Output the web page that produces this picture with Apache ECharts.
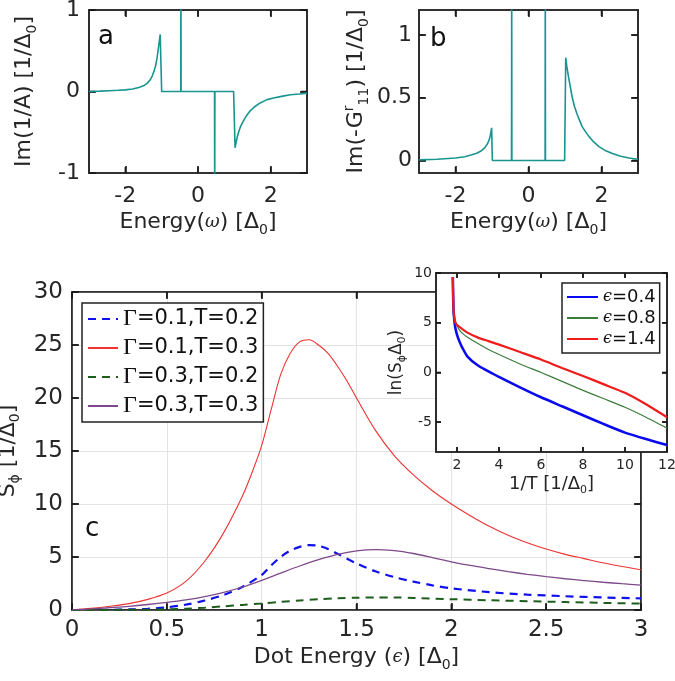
<!DOCTYPE html>
<html><head><meta charset="utf-8">
<script src="https://cdn.jsdelivr.net/npm/echarts@6/dist/echarts.min.js"></script>
<style>html,body{margin:0;padding:0;background:#fff}#c{width:675px;height:681px}</style>
</head><body><div id="c"></div>
<script>
// ---------- Panel a : Im(1/A) ----------
const aOmega = [-3, -2.7, -2.45, -2.2, -2, -1.8, -1.63, -1.5, -1.4, -1.32, -1.26, -1.21, -1.17, -1.13, -1.1, -1.07, -1.04, -1.0,
  -0.475, -0.47, -0.465, 0.455, 0.46, 0.465, 0.98, 1.02, 1.05, 1.08, 1.11, 1.17, 1.25, 1.33, 1.43, 1.55, 1.71, 1.9, 2.08, 2.3, 2.54, 2.8, 3];
const aValue = [0, 0.005, 0.01, 0.015, 0.02, 0.03, 0.05, 0.07, 0.1, 0.14, 0.19, 0.25, 0.31, 0.4, 0.5, 0.6, 0.7, 0,
  0, 1.5, 0, 0, -1.5, 0, 0, -0.69, -0.62, -0.56, -0.51, -0.43, -0.36, -0.3, -0.24, -0.19, -0.14, -0.1, -0.08, -0.06, -0.04, -0.03, -0.02];

// ---------- Panel b : Im(-G^r_11) ----------
const bOmega = [-3, -2.5, -2, -1.75, -1.55, -1.4, -1.28, -1.2, -1.12, -1.07, -1.04, -1.01, -0.99,
  -0.465, -0.46, -0.455, 0.455, 0.46, 0.465, 0.99, 1.02, 1.05, 1.1, 1.15, 1.2, 1.26, 1.33, 1.4, 1.47, 1.56, 1.66, 1.78, 1.93, 2.1, 2.3, 2.5, 2.75, 3];
const bValue = [0.005, 0.01, 0.02, 0.03, 0.045, 0.06, 0.08, 0.1, 0.135, 0.17, 0.21, 0.26, 0,
  0, 1.5, 0, 0, 1.5, 0, 0, 0.82, 0.75, 0.66, 0.58, 0.5, 0.43, 0.37, 0.32, 0.27, 0.23, 0.19, 0.15, 0.11, 0.08, 0.055, 0.035, 0.02, 0.01];

// ---------- Panel c : S_phi vs dot energy ----------
const cNames = ['Γ=0.1,T=0.2', 'Γ=0.1,T=0.3', 'Γ=0.3,T=0.2', 'Γ=0.3,T=0.3'];
const blueEps = [0, 0.1, 0.2, 0.3, 0.4, 0.5, 0.6, 0.7, 0.8, 0.9, 1.0, 1.05, 1.1, 1.15, 1.2, 1.25, 1.3, 1.35, 1.4, 1.5, 1.6, 1.7, 1.8, 1.9, 2.0, 2.2, 2.4, 2.6, 2.8, 3.0];
const blueS   = [0, 0, 0.02, 0.05, 0.12, 0.25, 0.5, 0.9, 1.42, 2.2, 3.3, 4.2, 5.0, 5.6, 5.95, 6.12, 6.05, 5.75, 5.3, 4.4, 3.65, 3.1, 2.68, 2.33, 2.05, 1.68, 1.45, 1.3, 1.18, 1.1];
const redEps  = [0, 0.1, 0.2, 0.3, 0.4, 0.5, 0.6, 0.7, 0.8, 0.9, 0.95, 1.0, 1.05, 1.1, 1.15, 1.2, 1.25, 1.3, 1.35, 1.4, 1.45, 1.5, 1.6, 1.7, 1.8, 1.9, 2.0, 2.1, 2.2, 2.3, 2.4, 2.5, 2.6, 2.7, 2.8, 2.9, 3.0];
const redS    = [0, 0.15, 0.35, 0.6, 1.0, 1.6, 2.7, 4.6, 7.3, 10.8, 13.0, 15.5, 18.9, 22.2, 24.2, 25.3, 25.5, 25.0, 24.2, 23.0, 21.6, 20.0, 16.95, 14.55, 12.75, 11.25, 10.0, 8.9, 7.9, 7.05, 6.35, 5.75, 5.25, 4.85, 4.45, 4.1, 3.8];
const greenEps = [0, 0.2, 0.4, 0.5, 0.6, 0.7, 0.8, 0.9, 1.0, 1.1, 1.2, 1.3, 1.4, 1.5, 1.6, 1.7, 1.8, 2.0, 2.2, 2.4, 2.6, 2.8, 3.0];
const greenS   = [0, 0.01, 0.03, 0.06, 0.12, 0.22, 0.35, 0.48, 0.61, 0.76, 0.9, 1.02, 1.1, 1.16, 1.19, 1.18, 1.14, 1.02, 0.92, 0.83, 0.75, 0.67, 0.6];
const purpleEps = [0, 0.1, 0.2, 0.3, 0.4, 0.5, 0.6, 0.7, 0.8, 0.9, 1.0, 1.1, 1.2, 1.3, 1.4, 1.5, 1.6, 1.7, 1.8, 1.9, 2.0, 2.1, 2.2, 2.3, 2.4, 2.5, 2.6, 2.7, 2.8, 2.9, 3.0];
const purpleS   = [0, 0.1, 0.22, 0.35, 0.52, 0.72, 0.96, 1.27, 1.67, 2.17, 2.8, 3.48, 4.15, 4.75, 5.25, 5.58, 5.7, 5.6, 5.33, 4.95, 4.55, 4.2, 3.9, 3.62, 3.37, 3.15, 2.95, 2.78, 2.62, 2.48, 2.35];

// ---------- Inset : ln(S_phi Delta0) vs 1/T ----------
const insetNames = ['ϵ=0.4', 'ϵ=0.8', 'ϵ=1.4'];
const invT04 = [1.8, 1.83, 1.87, 1.92, 2.0, 2.1, 2.25, 2.5, 3, 4, 5, 6, 7, 8, 9, 10, 11, 12];
const lnS04  = [9.6, 6.5, 5.3, 4.5, 3.8, 3.2, 2.5, 1.6, 0.7, -0.45, -1.5, -2.5, -3.4, -4.3, -5.2, -6.05, -6.7, -7.3];
const invT08 = [1.8, 1.83, 1.87, 1.95, 2.1, 2.3, 2.5, 3, 3.5, 4, 5, 6, 7, 8, 9, 10, 11, 12];
const lnS08  = [9.6, 6.5, 5.5, 5.0, 4.3, 3.85, 3.55, 2.9, 2.3, 1.8, 0.85, 0, -0.9, -1.8, -2.65, -3.5, -4.5, -5.6];
const invT14 = [1.8, 1.83, 1.87, 1.95, 2.1, 2.5, 3, 3.5, 4, 5, 6, 7, 8, 9, 10, 11, 12];
const lnS14  = [9.6, 6.5, 5.5, 4.9, 4.6, 4.0, 3.5, 3.15, 2.8, 2.05, 1.3, 0.45, -0.35, -1.2, -2.05, -3.2, -4.5];

// ---------- Tick labels ----------
const abXTicks = [-2, 0, 2];
const aYTicks = [-1, 0, 1];
const bYTicks = [0, 0.5, 1];
const cXTicks = [0, 0.5, 1, 1.5, 2, 2.5, 3];
const cYTicks = [0, 5, 10, 15, 20, 25, 30];
const insetXTicks = [2, 4, 6, 8, 10, 12];
const insetYTicks = [-5, 0, 5, 10];

const zip = (xs, ys) => xs.map((x, i) => [x, ys[i]]);

const FONT = 'DejaVu Sans';
const TXT = '#262626';
const BOX = '#262626';
const TEAL = '#18958f';

function richFor(size) {
  return {
    sub: { fontSize: Math.round(size * 0.62), fontFamily: FONT, color: TXT, verticalAlign: 'bottom', lineHeight: Math.round(size * 0.7) },
    sup: { fontSize: Math.round(size * 0.62), fontFamily: FONT, color: TXT, verticalAlign: 'top', lineHeight: Math.round(size * 0.7) },
    g: { fontSize: Math.round(size * 0.8), fontFamily: 'DejaVu Serif', fontStyle: 'italic', color: TXT }
  };
}
function nameStyle(size) {
  return { fontFamily: FONT, fontSize: size, color: TXT, lineHeight: Math.round(size * 1.3), rich: richFor(size) };
}

function axisCommon(gi, min, max, pos, opt, labelled) {
  const tick = { show: true, inside: true, length: opt.tick || 7, lineStyle: { color: '#1a1a1a', width: 1.6 } };
  const label = labelled ? { show: true, margin: opt.margin, fontFamily: FONT, fontSize: opt.fs, color: TXT } : { show: false };
  if (opt.ticks) { tick.customValues = opt.ticks; if (labelled) label.customValues = opt.ticks; }
  const ax = {
    type: 'value', gridIndex: gi, min, max, position: pos,
    axisLine: { show: true, onZero: false, lineStyle: { color: BOX, width: 1.6 } },
    axisTick: tick,
    axisLabel: label,
    splitLine: { show: labelled && !!opt.split, lineStyle: { color: '#e3e3e3', width: 1 } }
  };
  if (opt.z) ax.z = opt.z;
  if (opt.interval) ax.interval = opt.interval;
  if (labelled) {
    ax.name = opt.name; ax.nameLocation = 'middle'; ax.nameGap = opt.nameGap; ax.nameTextStyle = nameStyle(opt.nfs);
  }
  return ax;
}
const xPair = (gi, min, max, opt) => [axisCommon(gi, min, max, 'bottom', opt, true), axisCommon(gi, min, max, 'top', opt, false)];
const yPair = (gi, min, max, opt) => [axisCommon(gi, min, max, 'left', opt, true), axisCommon(gi, min, max, 'right', opt, false)];

const xAxes = [].concat(
  xPair(0, -3, 3, { ticks: abXTicks, fs: 22, margin: 12, name: 'Energy({g|ω}) [Δ{sub|0}]', nameGap: 32, nfs: 22 }),
  xPair(1, -3, 3, { ticks: abXTicks, fs: 22, margin: 12, name: 'Energy({g|ω}) [Δ{sub|0}]', nameGap: 32, nfs: 22 }),
  xPair(2, 0, 3, { interval: 0.5, fs: 23, margin: 9, split: true, name: 'Dot Energy ({g|ϵ}) [Δ{sub|0}]', nameGap: 32, nfs: 22 }),
  xPair(3, 1, 12, { ticks: insetXTicks, fs: 14, margin: 6, name: '1/T [1/Δ{sub|0}]', nameGap: 20, nfs: 18, z: 11, tick: 5 })
);
const yAxes = [].concat(
  yPair(0, -1, 1, { ticks: aYTicks, fs: 22, margin: 9, name: 'Im(1/A) [1/Δ{sub|0}]', nameGap: 50, nfs: 22 }),
  yPair(1, -0.1, 1.2, { ticks: bYTicks, fs: 22, margin: 7, name: 'Im(-G{sup|r}{sub|11}) [1/Δ{sub|0}]', nameGap: 48, nfs: 22 }),
  yPair(2, 0, 30, { interval: 5, fs: 23, margin: 9, split: true, name: 'S{sub|ϕ} [1/Δ{sub|0}]', nameGap: 42, nfs: 22 }),
  yPair(3, -8, 10, { ticks: insetYTicks, fs: 14, margin: 4, name: 'ln(S{sub|ϕ}Δ{sub|0})', nameGap: 28, nfs: 17, z: 11, tick: 5 })
);

function line(name, data, xi, yi, color, width, opts) {
  return Object.assign({
    type: 'line', name, data, xAxisIndex: xi, yAxisIndex: yi,
    symbol: 'none', showSymbol: false, clip: true, animation: false,
    lineStyle: { color, width }, itemStyle: { color }
  }, opts || {});
}

// Inward box ticks on all four sides, placed through the axes' own scales.
function tickMarks(xi, yi, xTicks, yTicks, xMin, yMin, len, z) {
  const st = { stroke: '#1a1a1a', lineWidth: 1.5 };
  const xs = {
    type: 'custom', name: 'xticks' + xi, xAxisIndex: xi, yAxisIndex: yi, z, silent: true, clip: false, animation: false,
    data: xTicks.map(v => [v, yMin]),
    renderItem: (params, api) => {
      const cs = params.coordSys;
      const p = api.coord([api.value(0), api.value(1)]);
      const b = cs.y + cs.height, t = cs.y;
      return { type: 'group', children: [
        { type: 'line', shape: { x1: p[0], y1: b, x2: p[0], y2: b - len }, style: st },
        { type: 'line', shape: { x1: p[0], y1: t, x2: p[0], y2: t + len }, style: st }
      ] };
    }
  };
  const ys = {
    type: 'custom', name: 'yticks' + yi, xAxisIndex: xi, yAxisIndex: yi, z, silent: true, clip: false, animation: false,
    data: yTicks.map(v => [xMin, v]),
    renderItem: (params, api) => {
      const cs = params.coordSys;
      const p = api.coord([api.value(0), api.value(1)]);
      const l = cs.x, r = cs.x + cs.width;
      return { type: 'group', children: [
        { type: 'line', shape: { x1: l, y1: p[1], x2: l + len, y2: p[1] }, style: st },
        { type: 'line', shape: { x1: r, y1: p[1], x2: r - len, y2: p[1] }, style: st }
      ] };
    }
  };
  return [xs, ys];
}

const series = [
  line('a', zip(aOmega, aValue), 0, 0, TEAL, 1.6),
  line('b', zip(bOmega, bValue), 2, 2, TEAL, 1.6),
  line(cNames[0], zip(blueEps, blueS), 4, 4, '#1010ee', 2.2, { smooth: 0.3, lineStyle: { color: '#1010ee', width: 2.2, type: [8, 6] } }),
  line(cNames[1], zip(redEps, redS), 4, 4, '#ee3333', 1.1, { smooth: 0.3 }),
  line(cNames[2], zip(greenEps, greenS), 4, 4, '#1d5e1d', 2, { smooth: 0.3, lineStyle: { color: '#1d5e1d', width: 2, type: [8, 6] } }),
  line(cNames[3], zip(purpleEps, purpleS), 4, 4, '#7d4a8a', 1.3, { smooth: 0.3 }),
  line(insetNames[0], zip(invT04, lnS04), 6, 6, '#0a0aee', 2.6, { smooth: 0.2, z: 12 }),
  line(insetNames[1], zip(invT08, lnS08), 6, 6, '#3c7d3c', 1.2, { smooth: 0.2, z: 12 }),
  line(insetNames[2], zip(invT14, lnS14), 6, 6, '#f01c1c', 2.2, { smooth: 0.2, z: 12 })
].concat(
  tickMarks(0, 0, abXTicks, aYTicks, -3, -1, 6, 3),
  tickMarks(2, 2, abXTicks, bYTicks, -3, -0.1, 6, 3),
  tickMarks(4, 4, cXTicks, cYTicks, 0, 0, 6, 3),
  tickMarks(6, 6, insetXTicks, insetYTicks, 1, -8, 5, 13)
);

const gridBase = { show: true, borderColor: BOX, borderWidth: 1.6, outerBoundsMode: 'none' };
const hiddenSymbol = { opacity: 0, color: 'rgba(0,0,0,0)', borderWidth: 0 };
const option = {
  animation: false,
  backgroundColor: '#fff',
  textStyle: { fontFamily: FONT },
  title: [
    { text: 'a', left: 98, top: 24, padding: 0, textStyle: { fontFamily: FONT, fontSize: 26, fontWeight: 'normal', color: '#111' } },
    { text: 'b', left: 430, top: 26, padding: 0, textStyle: { fontFamily: FONT, fontSize: 26, fontWeight: 'normal', color: '#111' } },
    { text: 'c', left: 85, top: 516, padding: 0, textStyle: { fontFamily: FONT, fontSize: 26, fontWeight: 'normal', color: '#111' } }
  ],
  grid: [
    Object.assign({ left: 89, top: 10, width: 218, height: 163 }, gridBase),
    Object.assign({ left: 419, top: 10, width: 219, height: 163 }, gridBase),
    Object.assign({ left: 72, top: 292, width: 569, height: 318 }, gridBase),
    Object.assign({ left: 436, top: 273, width: 231, height: 179, z: 10, backgroundColor: '#fff' }, gridBase)
  ],
  xAxis: xAxes,
  yAxis: yAxes,
  legend: [
    {
      data: cNames, orient: 'vertical', left: 82, top: 303, z: 5,
      padding: [4, 5, 4, 5], itemGap: 5, itemWidth: 30, itemHeight: 14, itemTextGap: 4,
      borderColor: '#222', borderWidth: 1.5, backgroundColor: '#fff',
      itemStyle: hiddenSymbol,
      formatter: n => n.replace('Γ', '{G|Γ}'),
      textStyle: { fontFamily: FONT, fontSize: 21, color: '#111', lineHeight: 22,
        rich: { G: { fontFamily: 'Liberation Serif', fontSize: 24, color: '#111', lineHeight: 22 } } }
    },
    {
      data: insetNames, orient: 'vertical', left: 562, top: 283, z: 20,
      padding: [5, 4, 5, 4], itemGap: 3, itemWidth: 31, itemHeight: 12, itemTextGap: 2,
      borderColor: '#222', borderWidth: 1.5, backgroundColor: '#fff',
      itemStyle: hiddenSymbol,
      formatter: n => n.replace('ϵ', '{e|ϵ}'),
      textStyle: { fontFamily: FONT, fontSize: 18, color: '#111', lineHeight: 18,
        rich: { e: { fontFamily: 'DejaVu Serif', fontStyle: 'italic', fontSize: 16, color: '#111', lineHeight: 18 } } }
    }
  ],
  series
};

const chart = echarts.init(document.getElementById('c'), null, { renderer: 'canvas', width: 675, height: 681 });
chart.setOption(option);
</script>
</body></html>
